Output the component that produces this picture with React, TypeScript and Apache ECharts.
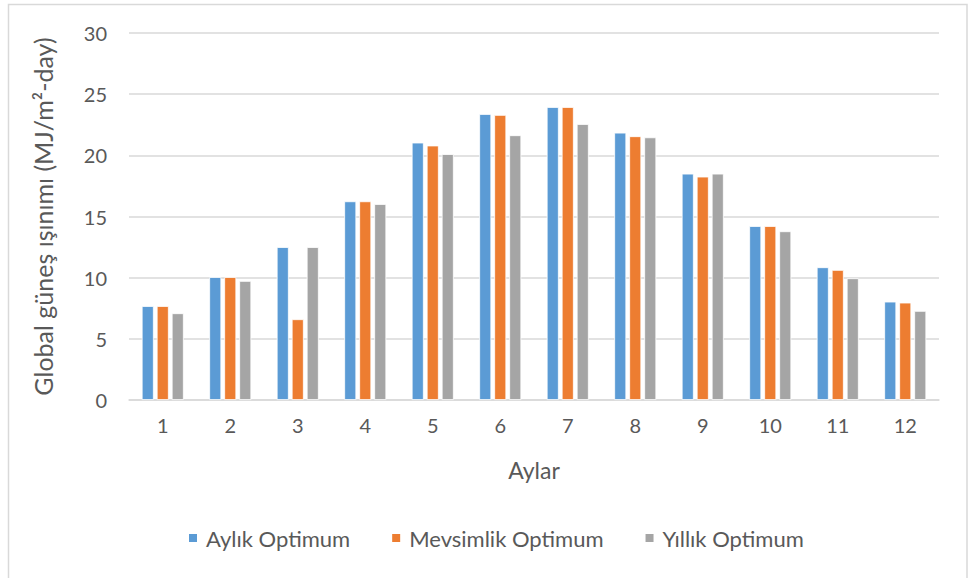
import React, { useEffect, useRef } from "react";
import * as echarts from "echarts";

const months = ["1", "2", "3", "4", "5", "6", "7", "8", "9", "10", "11", "12"];
const aylik = [7.68, 10.05, 12.5, 16.24, 21.04, 23.38, 23.95, 21.85, 18.5, 14.22, 10.85, 8.04];
const mevsimlik = [7.68, 10.05, 6.6, 16.24, 20.8, 23.3, 23.95, 21.56, 18.26, 14.22, 10.63, 7.96];
const yillik = [7.09, 9.73, 12.5, 16.02, 20.1, 21.64, 22.56, 21.47, 18.5, 13.79, 9.95, 7.28];
const seriesNames = ["Aylık Optimum", "Mevsimlik Optimum", "Yıllık Optimum"];
const colors = ["#5B9BD5", "#ED7D31", "#A5A5A5"];

const FONT = "Lato, 'Open Sans', sans-serif";
const TXT = "#595959";

export default function App() {
  const ref = useRef<HTMLDivElement>(null);
  useEffect(() => {
    if (!ref.current) return;
    const chart = echarts.init(ref.current, undefined, { renderer: "svg" });
    const mk = (name: string, data: number[], color: string) => ({
      name,
      type: "bar",
      data,
      barWidth: 12,
      barGap: "25%",
      itemStyle: { color, borderColor: "#ffffff", borderWidth: 0.8 },
    });
    chart.setOption({
      animation: false,
      textStyle: { fontFamily: FONT },
      color: colors,
      graphic: [
        {
          type: "rect",
          shape: { x: 8.5, y: 4.5, width: 958.5, height: 580 },
          style: { fill: "none", stroke: "#d9d9d9", lineWidth: 1.5 },
          silent: true,
        },
      ],
      grid: { left: 129, right: 29, top: 33, bottom: 178, containLabel: false },
      legend: {
        bottom: 24,
        left: 182,
        icon: "rect",
        itemWidth: 10,
        itemHeight: 10,
        itemGap: 40,
        textStyle: { color: TXT, fontSize: 22, fontFamily: FONT, padding: [0, 0, 0, 3] },
        data: seriesNames,
      },
      xAxis: {
        type: "category",
        data: months,
        name: "Aylar",
        nameLocation: "middle",
        nameGap: 58,
        nameTextStyle: { color: TXT, fontSize: 23, fontFamily: FONT },
        axisLine: { lineStyle: { color: "#d9d9d9", width: 1.5 } },
        axisTick: { show: false },
        axisLabel: { color: TXT, fontSize: 20, margin: 15, fontFamily: FONT },
      },
      yAxis: {
        type: "value",
        min: 0,
        max: 30,
        interval: 5,
        name: "Global güneş ışınımı (MJ/m²-day)",
        nameLocation: "middle",
        nameGap: 74,
        nameRotate: 90,
        nameTextStyle: { color: TXT, fontSize: 25, fontFamily: FONT },
        axisLine: { show: false },
        axisTick: { show: false },
        axisLabel: { color: TXT, fontSize: 20, margin: 22, fontFamily: FONT },
        splitLine: { lineStyle: { color: "#d9d9d9", width: 1.5 } },
      },
      series: [
        mk(seriesNames[0], aylik, colors[0]),
        mk(seriesNames[1], mevsimlik, colors[1]),
        mk(seriesNames[2], yillik, colors[2]),
      ],
    });
    return () => chart.dispose();
  }, []);
  return (
    <div
      ref={ref}
      style={{ position: "fixed", left: 0, top: 0, width: 968, height: 578, background: "#fff" }}
    />
  );
}
